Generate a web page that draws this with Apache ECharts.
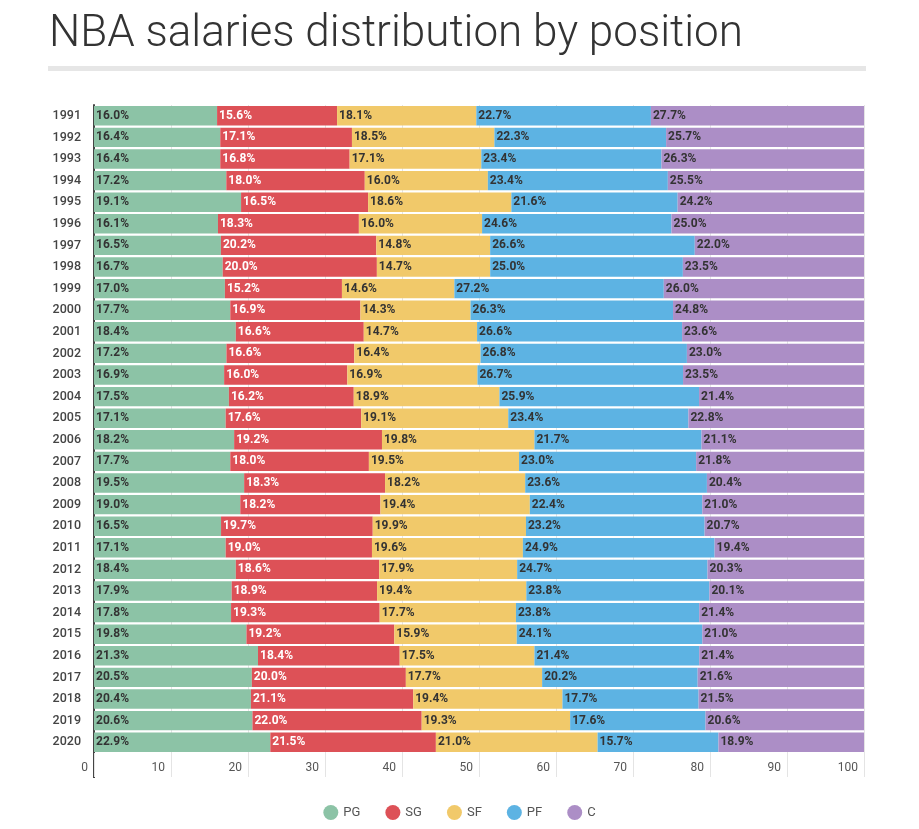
<!DOCTYPE html>
<html><head><meta charset="utf-8">
<script src="https://cdn.jsdelivr.net/npm/echarts@6/dist/echarts.min.js"></script>
<style>html,body{margin:0;padding:0;background:#fff}#c{width:919px;height:829px}</style>
</head><body><div id="c"></div>
<script>
const years = ['1991','1992','1993','1994','1995','1996','1997','1998','1999','2000','2001','2002','2003','2004','2005','2006','2007','2008','2009','2010','2011','2012','2013','2014','2015','2016','2017','2018','2019','2020'];
const PG = [16.0,16.4,16.4,17.2,19.1,16.1,16.5,16.7,17.0,17.7,18.4,17.2,16.9,17.5,17.1,18.2,17.7,19.5,19.0,16.5,17.1,18.4,17.9,17.8,19.8,21.3,20.5,20.4,20.6,22.9];
const SG = [15.6,17.1,16.8,18.0,16.5,18.3,20.2,20.0,15.2,16.9,16.6,16.6,16.0,16.2,17.6,19.2,18.0,18.3,18.2,19.7,19.0,18.6,18.9,19.3,19.2,18.4,20.0,21.1,22.0,21.5];
const SF = [18.1,18.5,17.1,16.0,18.6,16.0,14.8,14.7,14.6,14.3,14.7,16.4,16.9,18.9,19.1,19.8,19.5,18.2,19.4,19.9,19.6,17.9,19.4,17.7,15.9,17.5,17.7,19.4,19.3,21.0];
const PF = [22.7,22.3,23.4,23.4,21.6,24.6,26.6,25.0,27.2,26.3,26.6,26.8,26.7,25.9,23.4,21.7,23.0,23.6,22.4,23.2,24.9,24.7,23.8,23.8,24.1,21.4,20.2,17.7,17.6,15.7];
const C  = [27.7,25.7,26.3,25.5,24.2,25.0,22.0,23.5,26.0,24.8,23.6,23.0,23.5,21.4,22.8,21.1,21.8,20.4,21.0,20.7,19.4,20.3,20.1,21.4,21.0,21.4,21.6,21.5,20.6,18.9];
const xTicks = [0,10,20,30,40,50,60,70,80,90,100];
const seriesNames = ['PG','SG','SF','PF','C'];
const seriesData = [PG,SG,SF,PF,C];
const colors = ['#8cc3a6','#dd5157','#f1c96a','#5db3e3','#ac8ec6'];

// shares are drawn as a fraction of each year's total (rounded values don't add up to exactly 100)
const totals = years.map((_,j)=>seriesData.reduce((s,a)=>s+a[j],0));

const chart = echarts.init(document.getElementById('c'));
const font = 'Roboto, "Noto Sans", sans-serif';
chart.setOption({
  animation:false,
  backgroundColor:'#fff',
  title:{text:'NBA salaries distribution by position',left:44,top:8,
    textStyle:{fontFamily:font,fontWeight:300,fontSize:44,color:'#333'}},
  legend:{bottom:4,left:'center',icon:'circle',itemWidth:15,itemHeight:15,itemGap:25,
    textStyle:{fontFamily:font,fontSize:13,color:'#555'},data:seriesNames},
  grid:{left:94,right:55,top:105,bottom:76},
  xAxis:{type:'value',min:0,max:100,interval:10,
    axisLine:{show:false},
    axisTick:{show:true,length:24,lineStyle:{color:'#e4e4e4'}},
    splitLine:{show:true,lineStyle:{color:'#e4e4e4'}},
    axisLabel:{fontFamily:font,fontSize:12,color:'#555',align:'right',padding:[0,6,0,0],margin:9,
      formatter:v=>xTicks.includes(v)?String(v):''}},
  yAxis:{type:'category',data:years,inverse:true,
    axisLine:{show:true,lineStyle:{color:'#444',width:2}},
    axisTick:{show:false},
    axisLabel:{fontFamily:font,fontSize:12.5,fontWeight:500,color:'#444',margin:13}},
  series:seriesData.map((d,i)=>({
    name:seriesNames[i],type:'bar',stack:'t',
    data:d.map((v,j)=>({value:v/totals[j]*100,raw:v})),barCategoryGap:'10%',
    itemStyle:{color:colors[i]},
    label:{show:true,position:'insideLeft',distance:2,formatter:p=>p.data.raw.toFixed(1)+'%',
      fontFamily:font,fontSize:12,fontWeight:'bold',color:i===1?'#fff':'#333'}
  }))
});
const p0 = chart.convertToPixel({xAxisIndex:0,yAxisIndex:0},[0,years[years.length-1]]);
const bandH = chart.getModel().getComponent('yAxis',0).axis.getBandWidth();
chart.setOption({graphic:[{type:'rect',left:48,top:66,shape:{width:818,height:5},style:{fill:'#e6e6e6'}},
  {type:'line',shape:{x1:p0[0],y1:p0[1],x2:p0[0],y2:p0[1]+bandH/2+25},style:{stroke:'#444',lineWidth:2}}]});
</script></body></html>
